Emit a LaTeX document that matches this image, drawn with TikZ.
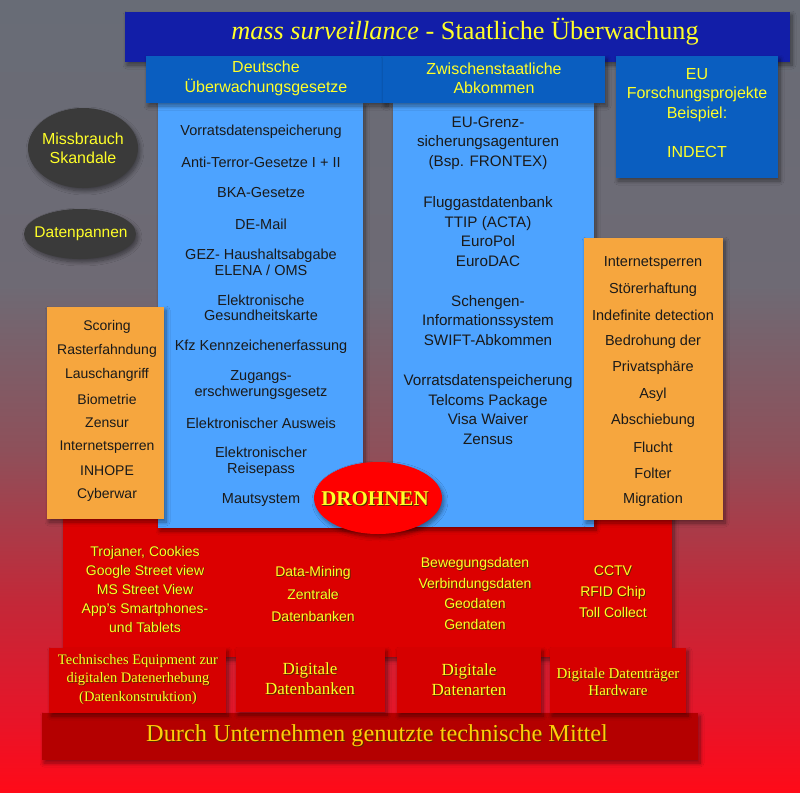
\documentclass[tikz,border=0pt]{standalone}
\usepackage{fontspec}
\setmainfont{Liberation Serif}
\setsansfont{Liberation Sans}
\usetikzlibrary{shapes.geometric,shadows,shadows.blur}
\definecolor{bgA}{RGB}{104,108,118}
\definecolor{bgB}{RGB}{110,106,116}
\definecolor{bgC}{RGB}{142,80,90}
\definecolor{bgD}{RGB}{195,40,56}
\definecolor{bgE}{RGB}{232,20,40}
\definecolor{bgF}{RGB}{255,10,24}
\definecolor{titleblue}{RGB}{18,30,168}
\definecolor{hdrblue}{RGB}{10,94,192}
\definecolor{colblue}{RGB}{77,163,255}
\definecolor{orangebox}{RGB}{246,166,62}
\definecolor{ellgray}{RGB}{58,58,58}
\definecolor{redbox}{RGB}{220,0,0}
\definecolor{redsmall}{RGB}{214,0,0}
\definecolor{redbar}{RGB}{180,0,0}
\definecolor{drohnenred}{RGB}{255,0,0}
\definecolor{yel}{RGB}{255,255,40}
\definecolor{goldtxt}{RGB}{255,205,10}
\definecolor{darktxt}{RGB}{26,26,26}
\definecolor{shadowc}{RGB}{90,40,0}
\pgfdeclareverticalshading{bgshade}{100bp}{color(0bp)=(bgF); color(25bp)=(bgF); color(29.5bp)=(bgE); color(37bp)=(bgD); color(46.6bp)=(bgC); color(57bp)=(bgB); color(75bp)=(bgA); color(100bp)=(bgA)}
\newcommand\shd[1]{\leavevmode\rlap{\kern0.9pt\raisebox{-0.9pt}{\color{shadowc}#1}}#1}
\tikzset{
  softshadow/.style={blur shadow={shadow xshift=2pt, shadow yshift=-3pt, shadow blur steps=8, shadow blur radius=4pt, shadow opacity=45}},
  boxstyle/.style={rectangle, draw=none, inner sep=0pt, softshadow},
  colitem/.style={font=\sffamily\fontsize{14.5}{15.5}\selectfont, text=darktxt, align=center, inner sep=0pt},
  col2item/.style={font=\sffamily\fontsize{15.2}{19.6}\selectfont, text=darktxt, align=center, inner sep=0pt},
  oritem/.style={font=\sffamily\fontsize{14}{16}\selectfont, text=darktxt, inner sep=0pt},
  oritemR/.style={font=\sffamily\fontsize{14.5}{16}\selectfont, text=darktxt, inner sep=0pt},
  hdrtext/.style={font=\sffamily\fontsize{16}{19.5}\selectfont, text=yel, align=center, inner sep=0pt},
  redtext/.style={font=\sffamily\fontsize{14}{19}\selectfont, text=yel, align=center, inner sep=0pt},
  smalltext/.style={font=\rmfamily\fontsize{14.5}{18.5}\selectfont, text=yel, align=center, inner sep=0pt},
}
\begin{document}
\begin{tikzpicture}[x=1pt,y=-1pt]
\useasboundingbox (0,0) rectangle (800,792);
\shade[shading=bgshade] (0,0) rectangle (800,792);

% big red box and bottom bar
\node[boxstyle, fill=redbox, minimum width=609pt, minimum height=157pt] (redbig) at (367.5,578.5) {};
\node[boxstyle, fill=redbar, minimum width=656pt, minimum height=47pt] (bar) at (370,736.5) {};
\node[font=\rmfamily\fontsize{24.3}{26}\selectfont, text=goldtxt, inner sep=0pt] (bartext) at (377,736) {\shd{Durch Unternehmen genutzte technische Mittel}};

% small bottom boxes
\node[boxstyle, fill=redsmall, minimum width=177pt, minimum height=65pt] (b1) at (137.5,680.5) {};
\node[boxstyle, fill=redsmall, minimum width=149pt, minimum height=64pt] (b2) at (310.5,680) {};
\node[boxstyle, fill=redsmall, minimum width=144pt, minimum height=65pt] (b3) at (469,680.5) {};
\node[boxstyle, fill=redsmall, minimum width=136pt, minimum height=65pt] (b4) at (618,680.5) {};
\node[smalltext] (b1t) at (138,679.5) {\shd{Technisches Equipment zur}\\\shd{digitalen Datenerhebung}\\\shd{(Datenkonstruktion)}};
\node[smalltext, font=\rmfamily\fontsize{17}{20}\selectfont] (b2t) at (310,679) {\shd{Digitale}\\\shd{Datenbanken}};
\node[smalltext, font=\rmfamily\fontsize{17}{20}\selectfont] (b3t) at (469,680) {\shd{Digitale}\\\shd{Datenarten}};
\node[smalltext, font=\rmfamily\fontsize{15}{17}\selectfont] (b4t) at (618,682.5) {\shd{Digitale Datenträger}\\\shd{Hardware}};

% red area texts
\node[redtext] (r1) at (145,589.5) {\shd{Trojaner, Cookies}\\\shd{Google Street view}\\\shd{MS Street View}\\\shd{App's Smartphones-}\\\shd{und Tablets}};
\node[redtext, font=\sffamily\fontsize{14}{22.5}\selectfont] (r2) at (313,594.5) {\shd{Data-Mining}\\\shd{Zentrale}\\\shd{Datenbanken}};
\node[redtext, font=\sffamily\fontsize{14}{20.7}\selectfont] (r3) at (475,594) {\shd{Bewegungsdaten}\\\shd{Verbindungsdaten}\\\shd{Geodaten}\\\shd{Gendaten}};
\node[redtext, font=\sffamily\fontsize{14}{21}\selectfont] (r4) at (613,592) {\shd{CCTV}\\\shd{RFID Chip}\\\shd{Toll Collect}};

% blue columns
\node[boxstyle, fill=colblue, minimum width=205pt, minimum height=425pt] (col1) at (260.5,315.5) {};
\node[boxstyle, fill=colblue, minimum width=201pt, minimum height=424pt] (col2) at (493.5,315) {};

% title bar and headers
\node[boxstyle, fill=titleblue, minimum width=665pt, minimum height=50pt] (title) at (457.5,37) {};
\node[font=\rmfamily\fontsize{26.3}{30}\selectfont, text=yel, inner sep=0pt] (titletext) at (465,32) {\textit{mass surveillance} - Staatliche Überwachung};
\node[boxstyle, fill=hdrblue, minimum width=240pt, minimum height=47pt] (hdr1) at (266,79.5) {};
\node[boxstyle, fill=hdrblue, minimum width=222pt, minimum height=47pt] (hdr2) at (494,79.5) {};
\node[boxstyle, fill=hdrblue, minimum width=162pt, minimum height=122pt] (eu) at (697,117) {};
\node[hdrtext] (hdr1t) at (266,78.5) {Deutsche\\Überwachungsgesetze};
\node[hdrtext] (hdr2t) at (494,78.5) {Zwischenstaatliche\\Abkommen};
\node[hdrtext] (eut) at (697,113) {EU\\Forschungsprojekte\\Beispiel:\\[19.5pt]INDECT};

% column 1 items
\node[colitem] (c1a) at (261,132) {Vorratsdatenspeicherung};
\node[colitem] (c1b) at (261,162) {Anti-Terror-Gesetze I + II};
\node[colitem] (c1c) at (261,193) {BKA-Gesetze};
\node[colitem] (c1d) at (261,224) {DE-Mail};
\node[colitem] (c1e) at (261,262.5) {GEZ- Haushaltsabgabe\\ELENA / OMS};
\node[colitem] (c1f) at (261,308) {Elektronische\\Gesundheitskarte};
\node[colitem] (c1g) at (261,347) {Kfz Kennzeichenerfassung};
\node[colitem] (c1h) at (261,385) {Zugangs-\\erschwerungsgesetz};
\node[colitem] (c1i) at (261,423) {Elektronischer Ausweis};
\node[colitem] (c1j) at (261,461.5) {Elektronischer\\Reisepass};
\node[colitem] (c1k) at (261,500) {Mautsystem};

% column 2 items
\node[col2item] (c2a) at (488,143) {EU-Grenz-\\sicherungsagenturen\\(Bsp. FRONTEX)};
\node[col2item] (c2b) at (488,231.5) {Fluggastdatenbank\\TTIP (ACTA)\\EuroPol\\EuroDAC};
\node[col2item] (c2c) at (488,320.5) {Schengen-\\Informationssystem\\SWIFT-Abkommen};
\node[col2item] (c2d) at (488,409.5) {Vorratsdatenspeicherung\\Telcoms Package\\Visa Waiver\\Zensus};

% ellipses
\node[ellipse, fill=ellgray, minimum width=110pt, minimum height=80pt, inner sep=0pt, softshadow] (ell1) at (83,148) {};
\node[hdrtext, font=\sffamily\fontsize{16}{19}\selectfont] (ell1t) at (83,148.5) {Missbrauch\\Skandale};
\node[ellipse, fill=ellgray, minimum width=112pt, minimum height=50pt, inner sep=0pt, softshadow] (ell2) at (80,234) {};
\node[hdrtext, font=\sffamily\fontsize{15.5}{19}\selectfont] (ell2t) at (81,234) {Datenpannen};

% orange boxes
\node[boxstyle, fill=orangebox, minimum width=117pt, minimum height=212pt] (orL) at (105.5,413) {};
\node[boxstyle, fill=orangebox, minimum width=139pt, minimum height=282pt] (orR) at (653.5,379) {};
\foreach \t [count=\i] in {Scoring,Rasterfahndung,Lauschangriff,Biometrie,Zensur,Internetsperren,INHOPE,Cyberwar}
  \node[oritem] (oL\i) at (107,{327+24*(\i-1)}) {\t};
\foreach \t [count=\i] in {Internetsperren,Störerhaftung,Indefinite detection,Bedrohung der,Privatsphäre,Asyl,Abschiebung,Flucht,Folter,Migration}
  \node[oritemR] (oR\i) at (653,{263+26.3*(\i-1)}) {\t};

% Drohnen
\node[ellipse, fill=drohnenred, minimum width=128pt, minimum height=72pt, inner sep=0pt, softshadow] (drohnen) at (378,498) {};
\node[font=\rmfamily\bfseries\fontsize{21}{24}\selectfont, text=yel, inner sep=0pt] (drohnent) at (375,499) {\shd{DROHNEN}};
\end{tikzpicture}
\end{document}
